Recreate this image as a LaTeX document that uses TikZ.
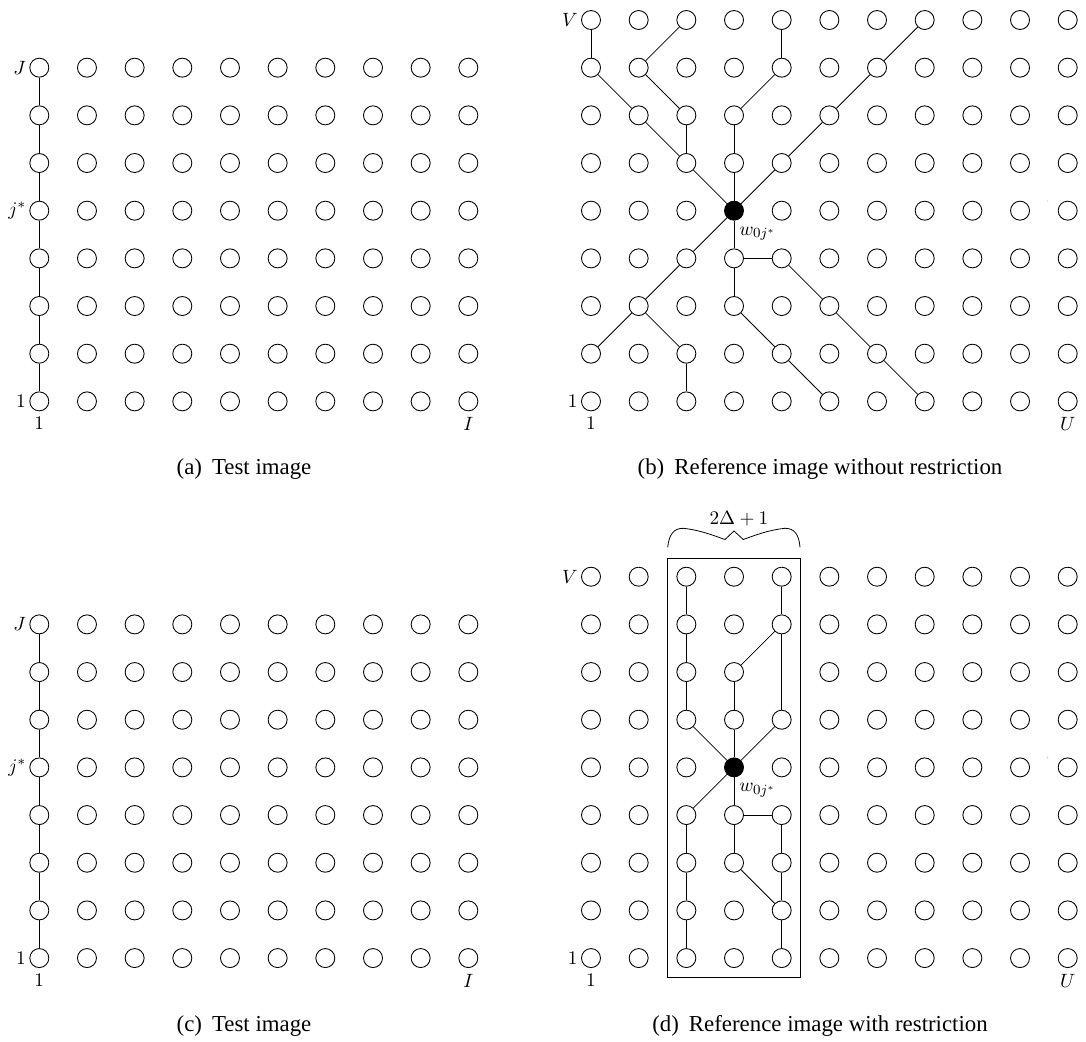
\documentclass[tikz,border=0pt]{standalone}
\usepackage{fontspec}
\newfontfamily\capfont{Liberation Serif}
\begin{document}
\begin{tikzpicture}[x=0.02cm,y=-0.02cm,
  gn/.style={circle,draw,line width=0.5pt,minimum size=0.38cm,inner sep=0pt},
  gnb/.style={gn,fill=black},
  edge/.style={line width=0.45pt},
  lbl/.style={inner sep=1.8pt,font=\fontsize{11}{13}\selectfont},
  mlbl/.style={inner sep=0pt,font=\fontsize{11}{13}\selectfont},
  captext/.style={font=\capfont\fontsize{13}{15}\selectfont,inner sep=0pt,anchor=base}]
\useasboundingbox (0,0) rectangle (1086,1042);
\def\s{47.67}
% ---------- panel (a) and (c)
\foreach \P/\dy in {a/0,c/556.7}{
  \foreach \u in {1,...,10}{
    \foreach \v in {1,...,8}{
      \node[gn] (\P-\u-\v) at ({39.3+(\u-1)*\s},{20+(9-\v)*\s+\dy}) {};
    }
  }
  \foreach \v [evaluate=\v as \w using int(\v-1)] in {8,...,2}{
    \draw[edge] (\P-1-\v) -- (\P-1-\w);
  }
  \node[lbl,anchor=east] (\P-lJ) at (\P-1-8.west) {$J$};
  \node[lbl,anchor=east] (\P-lj) at (\P-1-5.west) {$j^*$};
  \node[lbl,anchor=east] (\P-l1) at (\P-1-1.west) {$1$};
  \node[lbl,anchor=north,yshift=-1.5pt] (\P-b1) at (\P-1-1.south) {$1$};
  \node[lbl,anchor=north,yshift=-1.5pt] (\P-bI) at (\P-10-1.south) {$I$};
}
% ---------- panel (b)
\foreach \u in {1,...,11}{
  \foreach \v in {1,...,9}{
    \pgfmathtruncatemacro\isw{and(\u==4,\v==5)}
    \ifnum\isw=1
      \node[gnb] (b-\u-\v) at ({591+(\u-1)*\s},{20+(9-\v)*\s}) {};
    \else
      \node[gn] (b-\u-\v) at ({591+(\u-1)*\s},{20+(9-\v)*\s}) {};
    \fi
  }
}
\foreach \p/\q in {1-9/1-8, 3-9/2-8, 5-9/5-8, 8-9/7-8, 1-8/2-7, 2-8/3-7, 5-8/4-7,
  7-8/6-7, 2-7/3-6, 3-7/3-6, 4-7/4-6, 6-7/5-6, 3-6/4-5, 4-6/4-5, 5-6/4-5,
  4-5/3-4, 4-5/4-4, 4-4/5-4, 3-4/2-3, 2-3/1-2, 2-3/3-2, 3-2/3-1, 4-4/4-3,
  4-3/5-2, 5-2/6-1, 5-4/6-3, 6-3/7-2, 7-2/8-1}{
  \draw[edge] (b-\p) -- (b-\q);
}
\node[lbl,anchor=east] (b-lV) at (b-1-9.west) {$V$};
\node[lbl,anchor=east] (b-l1) at (b-1-1.west) {$1$};
\node[lbl,anchor=north,yshift=-1.5pt] (b-b1) at (b-1-1.south) {$1$};
\node[lbl,anchor=north,yshift=-1.5pt] (b-bU) at (b-11-1.south) {$U$};
\node[mlbl,anchor=base west] (b-w) at (739,235) {$w_{0j^*}$};
\fill[gray!60] (1047.7,201) circle (0.7);
% ---------- panel (d)
\foreach \u in {1,...,11}{
  \foreach \v in {1,...,9}{
    \pgfmathtruncatemacro\isw{and(\u==4,\v==5)}
    \pgfmathtruncatemacro\isgap{and(\u==5,\v==7)}
    \ifnum\isgap=0
      \ifnum\isw=1
        \node[gnb] (d-\u-\v) at ({591+(\u-1)*\s},{576.7+(9-\v)*\s}) {};
      \else
        \node[gn] (d-\u-\v) at ({591+(\u-1)*\s},{576.7+(9-\v)*\s}) {};
      \fi
    \fi
  }
}
\foreach \p/\q in {3-9/3-8, 3-8/3-7, 3-7/3-6, 5-9/5-8, 5-8/4-7, 5-8/5-6, 3-6/4-5,
  4-7/4-6, 4-6/4-5, 5-6/4-5, 4-5/3-4, 4-5/4-4, 4-4/5-4, 3-4/3-3, 3-3/3-2,
  3-2/3-1, 4-4/4-3, 5-4/5-3, 5-3/5-2, 5-2/5-1, 4-3/5-2}{
  \draw[edge] (d-\p) -- (d-\q);
}
\node[lbl,anchor=east] (d-lV) at (d-1-9.west) {$V$};
\node[lbl,anchor=east] (d-l1) at (d-1-1.west) {$1$};
\node[lbl,anchor=north,yshift=-1.5pt] (d-b1) at (d-1-1.south) {$1$};
\node[lbl,anchor=north,yshift=-1.5pt] (d-bU) at (d-11-1.south) {$U$};
\node[mlbl,anchor=base west] (d-w) at (739,791.7) {$w_{0j^*}$};
\fill[gray!60] (1047.7,757.7) circle (0.7);
\draw[line width=0.5pt] (667.3,558.3) rectangle (800.7,977.3);
\draw[line width=0.45pt] (667.7,547.3) .. controls (669,534) and (674,528.3) .. (683.3,528.3)
  .. controls (700,530) and (715,536) .. (725,539.5) -- (734,531) -- (743.3,539.5)
  .. controls (753,536) and (768,530) .. (785,528.3)
  .. controls (794,528.3) and (799,534) .. (800,547.3);
\node[mlbl] (brlab) at (739,519) {$2\Delta+1$};
% ---------- captions
\node[captext] (capa) at (244,474.3) {(a)\hspace{0.44em}Test image};
\node[captext] (capb) at (820,474.3) {(b)\hspace{0.44em}Reference image without restriction};
\node[captext] (capc) at (244,1031) {(c)\hspace{0.44em}Test image};
\node[captext] (capd) at (820,1031) {(d)\hspace{0.44em}Reference image with restriction};
\end{tikzpicture}
\end{document}
